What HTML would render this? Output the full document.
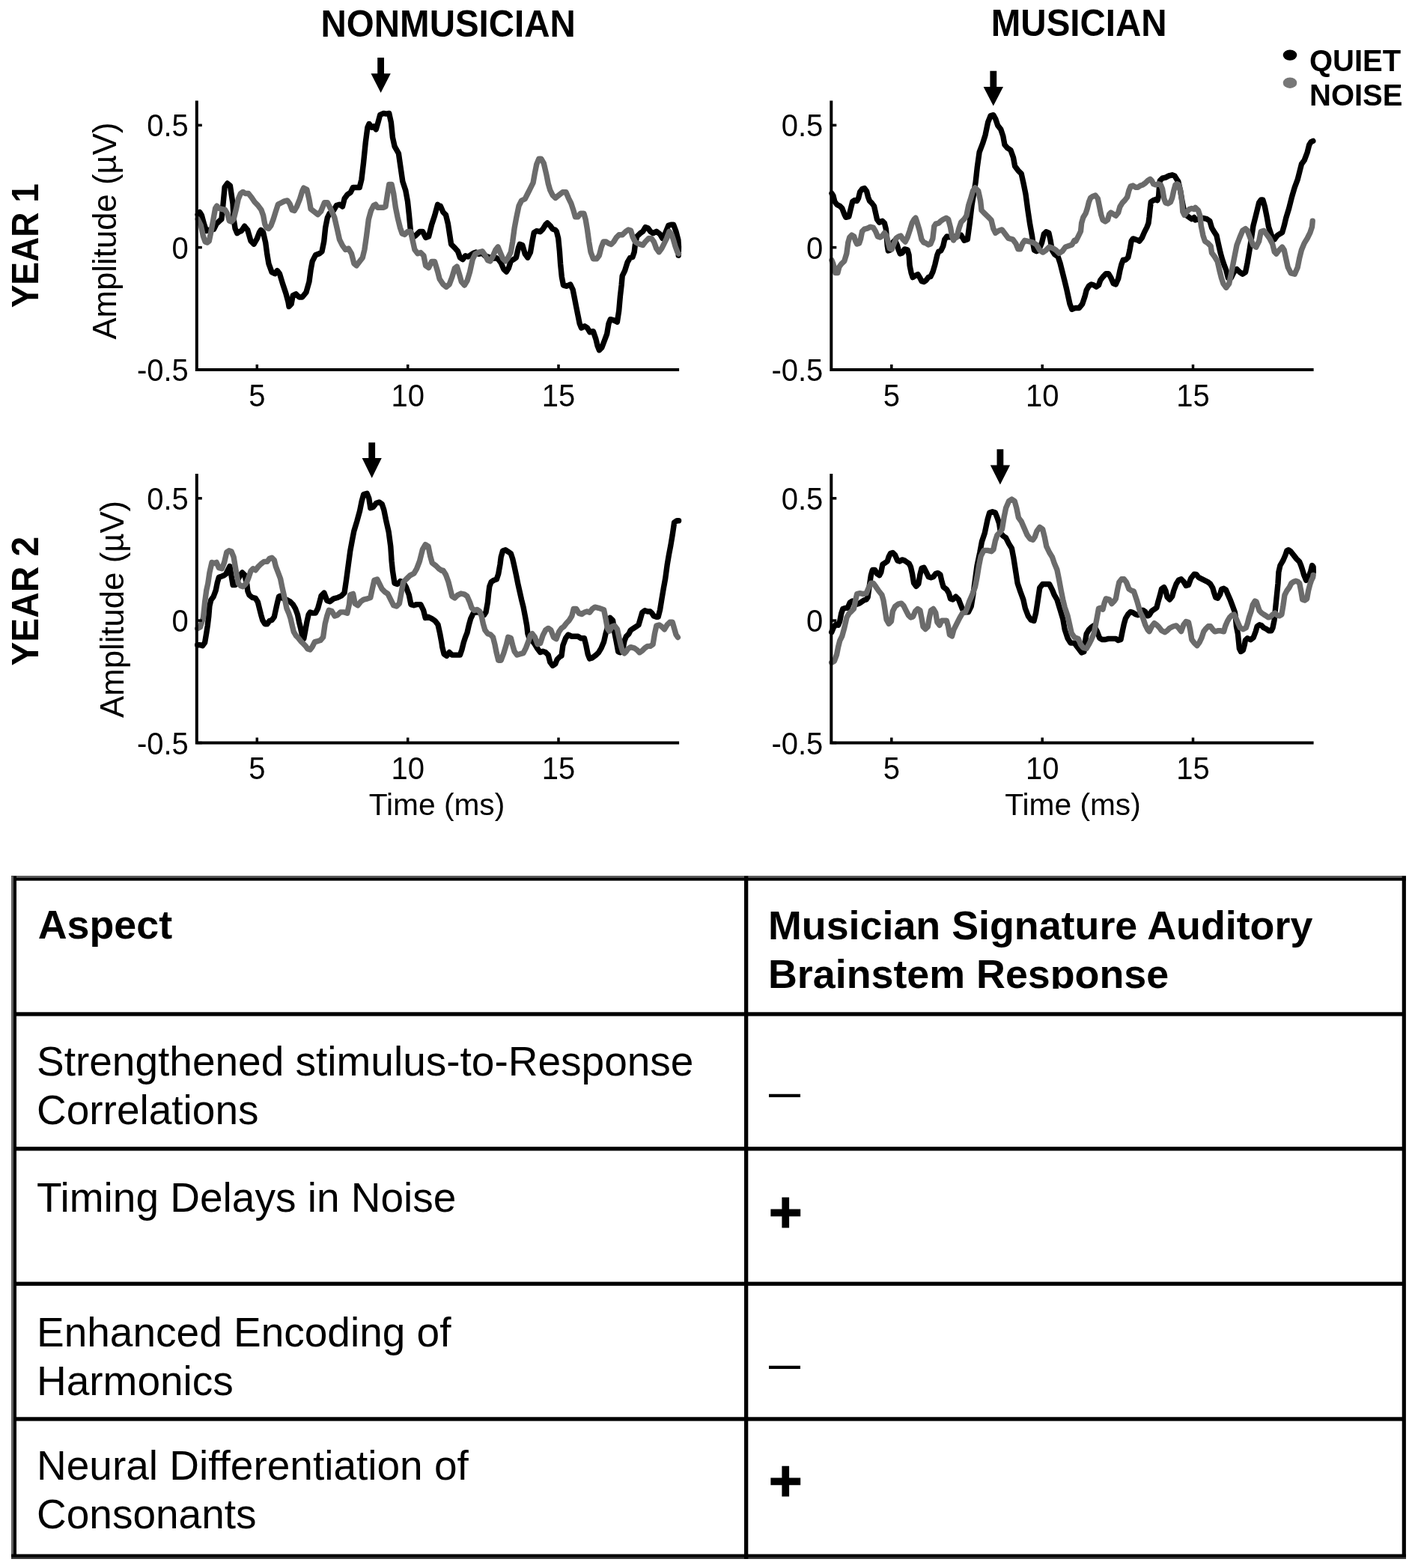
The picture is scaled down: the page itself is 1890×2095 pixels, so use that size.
<!DOCTYPE html>
<html><head><meta charset="utf-8"><title>Musician auditory brainstem response figure</title>
<style>
html,body{margin:0;padding:0;background:#fff;}
body{width:1890px;height:2095px;overflow:hidden;}
svg{display:block;}
text{font-family:'Liberation Sans', Arial, Helvetica, sans-serif;fill:#000;}
.tk{font-size:40px;}
.ax{font-size:40.7px;}
.yr{font-size:46px;font-weight:bold;}
.amp{font-size:44px;}
.ttl{font-size:47.5px;font-weight:bold;}
.lg{font-size:40px;font-weight:bold;}
.th{font-size:53.8px;font-weight:bold;}
.td{font-size:55px;}
.dash{font-size:42px;font-weight:bold;}
.plus{font-size:77px;font-weight:bold;stroke:#000;stroke-width:1.2px;}
</style></head>
<body><svg width="1890" height="2095" viewBox="0 0 1890 2095">
<path d="M264.2 286.6 L266.8 283.5 L269.4 287.7 L272.5 299.1 L275.6 308.5 L278.2 307.4 L285.5 306.4 L289.1 299.1 L293.3 295 L295.9 292.9 L297.5 278.3 L300.1 250.2 L303.7 245 L307.4 248.1 L311 272.1 L312.1 292.9 L314.1 305.4 L316.7 311.6 L319.9 309.5 L322.5 308.5 L326.6 302.2 L330.8 307.4 L335 322 L339.1 326.2 L343.3 318.9 L346.4 310.6 L348.5 307.4 L351.6 310.6 L354.7 324.1 L356.8 339.7 L358.9 352.2 L363.1 363.7 L367.2 365.7 L370.3 361.6 L373.5 365.7 L377.6 379.3 L381.8 391.8 L384.9 403.2 L386 409.5 L389.1 406.3 L391.2 394.9 L395.3 392.8 L399.5 397 L403.7 397 L408.9 390.7 L413 376.2 L415.1 360.5 L417.2 349.1 L421.4 340.8 L426.6 338.7 L430 336.1 L432.7 322.8 L434.7 304 L437.4 290.6 L440.1 285.3 L445.4 281.3 L449.4 274.6 L453.5 273.2 L457.5 275.9 L460.2 265.2 L464.2 259.8 L468.2 257.2 L471.5 250.5 L474.9 250.5 L480.2 250.5 L482.9 239.8 L485.6 217 L488.3 190.2 L490.9 170.2 L493 165.5 L496.3 170.2 L499 168.8 L502.3 172.8 L505 163.5 L507.7 153.4 L512.4 151.4 L515.7 152.1 L519.7 151.4 L522.4 163.5 L524.4 183.5 L527.1 195.6 L532.4 205 L535.1 223.7 L537.8 242.4 L541.8 254.5 L544.5 269.2 L546.5 288 L548.5 309.4 L551.2 317.4 L555.2 314.7 L560.6 309.4 L564.6 309.4 L568.6 317.4 L572.6 316.1 L576.6 300 L580.6 288 L584.6 273.2 L585.4 275.2 L588.3 275.2 L591.9 283.5 L595.5 287.1 L598.4 299 L600.8 314.4 L602.6 326.3 L607.4 331.1 L611.5 335.8 L614.5 344.2 L618.1 346.6 L621.6 341.8 L625.2 343 L628.8 340.6 L632.3 338.2 L635.9 337 L639.5 339.4 L644.2 338.2 L647.8 341.8 L651.4 343 L654.9 344.2 L658.5 345.4 L662.1 344.2 L665.7 346.6 L669.2 351.3 L672.8 359.6 L676.4 363.2 L679.3 358.4 L682.3 348.9 L685.9 346.6 L689.4 344.2 L692.4 331.1 L694.2 326.3 L697.8 327.5 L701.3 339.4 L704.9 344.2 L708.5 337 L710.9 322.8 L713.2 310.9 L716.8 308.5 L721.6 309.7 L725.1 306.1 L728.7 300.2 L731.1 297.8 L734.7 301.3 L738.2 306.1 L741.8 307.3 L743.4 309.3 L745.7 318.4 L747.4 335.5 L748.6 352.6 L750.3 369.7 L752.5 381.1 L757.1 382.3 L761.7 380 L765.1 386.8 L767.4 398.2 L769.6 409.6 L771.9 421 L774.2 432.4 L776.5 438.1 L781 435.8 L784.5 438.1 L787.9 443.8 L792.4 442.7 L795.9 453 L798.1 462.1 L800.4 467.8 L803.8 464.4 L807.3 455.2 L810.7 446.1 L813 432.4 L815.3 426.7 L819.8 427.9 L824.4 430.1 L826.7 415.3 L828.4 395.9 L830.1 381.1 L831.2 368.6 L834.6 361.7 L838.1 350.3 L841.5 344.6 L844.9 343.5 L847.2 336.7 L848.3 327.5 L850.6 316.1 L855.2 311.6 L858.6 309.3 L862 303.6 L865.4 304.7 L868.8 309.3 L872.3 311.6 L876.8 309.3 L881.4 312.7 L884.8 318.4 L888.2 312.7 L892.8 301.3 L896.2 300.2 L899.6 300.2 L903 309.3 L905.9 320.7 L906.5 329.8 L906.2 341.2" fill="none" stroke="#000" stroke-width="7.4" stroke-linejoin="round" stroke-linecap="round"/>
<path d="M264.2 292.9 L268.3 301.2 L271.5 315.8 L274.1 323.1 L276.7 324.1 L279.3 322 L281.9 309.5 L285 292.9 L287.6 278.3 L289.7 275.2 L292.3 278.3 L296.4 279.3 L300.6 280.4 L303.7 285.6 L306.3 295 L308.9 296 L312.1 292.9 L315.2 280.4 L318.3 265.8 L321.4 258.5 L324.5 256.4 L327.7 258.5 L331.8 258.5 L336 263.7 L340.2 270 L344.3 274.1 L349 280.4 L351.6 287.7 L353.7 299.1 L355.8 304.3 L358.9 305.4 L362 301.2 L365.1 292.9 L368.3 282.5 L371.4 273.1 L375.6 271 L379.7 268.9 L383.9 267.9 L387 272.1 L390.1 280.4 L393.3 281.4 L396.4 276.2 L400.5 265.8 L403.7 255.4 L405.7 251.2 L409.9 253.3 L413 266.8 L415.1 279.3 L419.3 282.5 L424.5 286.6 L428.6 282.5 L433.4 270.6 L437.4 270.6 L441.4 278.6 L446.8 290.6 L450.8 308 L453.5 320.1 L457.5 328.1 L461.5 333.5 L465.5 332.1 L469.5 338.8 L472.9 352.2 L476.2 354.9 L480.2 349.5 L484.3 344.2 L486.9 333.5 L489.6 314.7 L492.3 293.3 L495.6 281.3 L499 274.6 L501.7 273.2 L504.3 277.2 L508.3 277.2 L512.4 277.2 L515 275.9 L517.7 258.5 L519.7 246.5 L523.1 246.5 L525.7 258.5 L528.4 277.2 L531.1 290.6 L534.4 304 L537.1 312 L540.5 313.4 L544.5 309.4 L548.5 309.4 L551.2 321.4 L553.9 333.5 L557.9 338.8 L561.9 337.5 L565.9 341.5 L568.6 354.9 L572.6 357.6 L576.6 349.5 L580.6 349.5 L584.6 362.9 L587.1 372.7 L591.9 379.9 L596.1 383.4 L600.2 379.9 L603.8 370.3 L607.4 358.4 L610.3 356.1 L613.3 365.6 L616.3 376.3 L620.4 381 L624 375.1 L627.6 363.2 L631.2 346.6 L634.7 339.4 L639.5 337 L644.2 335.8 L647.8 340.6 L651.4 347.7 L654.9 348.9 L658.5 341.8 L662.1 333.5 L665.1 329.9 L668 337 L671.6 345.4 L675.2 348.9 L678.7 344.2 L682.3 337 L684.7 322.8 L687.1 304.9 L690 289.4 L693 275.2 L696.6 268 L701.3 265.7 L704.9 258.5 L708.5 251.4 L712.1 244.2 L714.4 231.2 L716.8 219.3 L719.8 212.1 L722.8 212.1 L726.3 218.1 L729.9 233.5 L732.3 245.4 L734.7 253.8 L738.2 260.9 L741.8 264.5 L751.4 256.8 L756 256.8 L759.4 264.8 L762.8 271.7 L766.2 281.9 L768.5 289.9 L771.9 289.9 L775.3 285.3 L779.9 285.3 L782.2 293.3 L784.5 307 L786.7 323 L789 336.7 L792.4 345.8 L797 345.8 L800.4 341.2 L803.3 329.8 L806.1 323 L809.6 323 L813 325.3 L816.4 326.4 L819.8 323 L823.2 317.3 L826.7 313.8 L831.2 313.8 L835.8 309.3 L839.2 307 L842.6 308.1 L844.9 316.1 L848.3 323 L851.7 325.3 L855.2 326.4 L858.6 327.5 L862 323 L866.6 318.4 L870 318.4 L873.4 323 L876.8 332.1 L880.2 336.7 L883.7 332.1 L887.1 325.3 L890.5 318.4 L893.9 309.3 L897.3 313.8 L899.6 320.7 L901.9 328.7 L904.8 336.7 L906.5 338.9" fill="none" stroke="#6b6b6b" stroke-width="7.4" stroke-linejoin="round" stroke-linecap="round"/>
<path d="M262.8 134.6 V494 H907.1" fill="none" stroke="#000" stroke-width="4" stroke-linejoin="miter"/>
<line x1="262.8" y1="167.3" x2="269.8" y2="167.3" stroke="#000" stroke-width="3.5"/>
<text transform="translate(251.8 182.3) scale(1 1.04)" text-anchor="end" class="tk">0.5</text>
<line x1="262.8" y1="330.6" x2="269.8" y2="330.6" stroke="#000" stroke-width="3.5"/>
<text transform="translate(251.8 345.6) scale(1 1.04)" text-anchor="end" class="tk">0</text>
<line x1="262.8" y1="494" x2="269.8" y2="494" stroke="#000" stroke-width="3.5"/>
<text transform="translate(251.8 509) scale(1 1.04)" text-anchor="end" class="tk">-0.5</text>
<line x1="343.3" y1="494" x2="343.3" y2="487" stroke="#000" stroke-width="3.5"/>
<text transform="translate(343.3 542.9) scale(1 1.04)" text-anchor="middle" class="tk">5</text>
<line x1="544.7" y1="494" x2="544.7" y2="487" stroke="#000" stroke-width="3.5"/>
<text transform="translate(544.7 542.9) scale(1 1.04)" text-anchor="middle" class="tk">10</text>
<line x1="746" y1="494" x2="746" y2="487" stroke="#000" stroke-width="3.5"/>
<text transform="translate(746 542.9) scale(1 1.04)" text-anchor="middle" class="tk">15</text>
<path d="M1111 258.5 L1112.9 261.5 L1114.9 269.4 L1117.9 273.4 L1121.9 275.4 L1124.8 278.4 L1127.8 286.3 L1129.8 290.3 L1133.8 289.3 L1136.7 277.4 L1138.7 269.4 L1141.7 267.4 L1144.7 268.4 L1146.7 264.5 L1148.6 256.5 L1151.6 252.6 L1154.6 251.6 L1157.6 255.5 L1159.6 263.5 L1161.5 268.4 L1164.5 271.4 L1167.5 275.4 L1169.5 284.3 L1171.5 293.2 L1174.4 297.2 L1178.4 295.2 L1181.4 298.2 L1183.4 306.1 L1184.3 317 L1185.3 328.9 L1186.3 334.9 L1189.3 333.9 L1192.3 324 L1195.3 321 L1198.2 327 L1200.2 333.9 L1202.2 338.9 L1205.2 337.9 L1208.2 332.9 L1212.1 333.9 L1214.1 340.8 L1215.1 354.7 L1217.1 364.6 L1219.1 370.6 L1222 368.6 L1226 366.6 L1229 371.6 L1231 375.6 L1233.9 376.5 L1236.9 374.6 L1239.9 370.6 L1242.9 369.6 L1245.8 363.7 L1248.8 353.7 L1251.8 340.8 L1253.8 335.9 L1256.8 334.9 L1259.7 328.9 L1261.7 320 L1264.7 316 L1270.8 317 L1283.7 314.1 L1288 321.3 L1292.3 319.8 L1295.2 298.3 L1298.1 273.8 L1301 256.6 L1303.1 243.6 L1305.3 223.5 L1308.1 203.4 L1312.5 191.8 L1316.1 180.3 L1319.7 163.1 L1323.2 154.5 L1326.8 153.7 L1329.7 158.8 L1332.6 167.4 L1336.9 173.1 L1339.8 181.8 L1341.9 193.3 L1345.5 197.6 L1349.9 200.5 L1353.5 210.5 L1355.6 222 L1359.9 227.8 L1364.2 232.1 L1367.1 245.1 L1370 259.4 L1372.9 281 L1375.7 299.7 L1378.6 315.5 L1380.1 327 L1381.5 334.2 L1384.4 335.7 L1387.3 334.2 L1391.6 324.2 L1394.4 312.7 L1397.3 309.8 L1400.9 311.2 L1403.1 321.3 L1405.2 334.2 L1408.8 340 L1413.1 342.9 L1416 351.5 L1418.9 363 L1421.8 374.5 L1424.6 386 L1426.8 396.1 L1429 406.1 L1431.8 413.3 L1435 411.9 L1437 411.5 L1441.4 411.5 L1445.7 406.1 L1449 396.3 L1451.2 387.6 L1454.4 382.1 L1457.7 379.9 L1461 381 L1464.3 383.2 L1467.5 381 L1469.7 374.5 L1473 370.1 L1477.3 365.7 L1480.6 365.7 L1483.9 371.2 L1487.2 378.8 L1490.4 379.9 L1493.7 372.3 L1495.9 361.4 L1498.1 352.7 L1500.2 347.2 L1503.5 347.2 L1506.8 343.9 L1509 334.1 L1511.1 322.1 L1513.3 318.9 L1516.6 319.9 L1519.9 321 L1522 322.1 L1525.3 317.8 L1528.6 310.1 L1531.9 303.6 L1534 298.1 L1535.1 289.4 L1536.2 278.5 L1537.3 269.8 L1540.6 267.6 L1543.9 266.5 L1546 267.6 L1547.7 261.1 L1548.4 250.2 L1549.3 241.4 L1552.6 238.2 L1556.9 237.1 L1561.3 234.9 L1565.7 233.8 L1568.9 234.9 L1572.2 240.3 L1573.8 242.5 L1576.6 254.5 L1578.8 267.6 L1580.9 278.5 L1584.2 287.2 L1588.6 290.5 L1591.8 292.7 L1595 290.5 L1596.6 294 L1601.8 292.7 L1606.9 291.4 L1612.1 292.7 L1615.9 295.3 L1618.5 304.3 L1622.4 310.8 L1624.9 314.6 L1627.5 326.2 L1630.1 337.8 L1632.7 346.9 L1635.3 354.6 L1637.8 361 L1640.4 371.3 L1644.3 371.3 L1648.1 363.6 L1652 359.7 L1655.9 363.6 L1659.7 366.2 L1663.6 363.6 L1666.2 350.7 L1668.8 335.3 L1671.3 319.8 L1673.9 301.8 L1677.8 286.3 L1681.6 270.8 L1684.2 267 L1686.8 267 L1689.4 276 L1692 288.9 L1694.5 303 L1698.4 314.6 L1702.3 319.8 L1706.1 314.6 L1710 312.1 L1712.6 310.8 L1715.2 301.8 L1717.7 291.4 L1721.6 278.6 L1725.5 263.1 L1729.3 250.2 L1733.2 239.9 L1735.8 229.6 L1738.4 219.3 L1742.2 214.1 L1746.1 203.8 L1748.7 193.5 L1751.2 189.6 L1753.8 188.4" fill="none" stroke="#000" stroke-width="7.4" stroke-linejoin="round" stroke-linecap="round"/>
<path d="M1111 347.8 L1112.9 352.7 L1115.9 364.6 L1118.9 364.6 L1120.9 356.7 L1123.8 352.7 L1127.8 348.8 L1130.8 338.9 L1132.8 324 L1134.8 317 L1137.7 314.1 L1140.7 316 L1142.7 322 L1144.7 326 L1147.6 325 L1149.6 319 L1151.6 309.1 L1154.6 306.1 L1158.6 305.1 L1162.5 303.2 L1166.5 304.1 L1169.5 309.1 L1172.4 316 L1175.4 317 L1178.4 315.1 L1181.4 311.1 L1184.3 315.1 L1186.3 324 L1188.3 331.9 L1191.3 332.9 L1194.3 325 L1197.2 318 L1200.2 316 L1203.2 315.1 L1206.2 320 L1209.1 323 L1212.1 317 L1215.1 308.1 L1218.1 298.2 L1221 293.2 L1223 291.2 L1225 297.2 L1228 307.1 L1231 320 L1233.9 324 L1236.9 325 L1239.9 327 L1242.9 326 L1245.8 319 L1247.8 302.2 L1249.8 299.2 L1253.8 298.2 L1256.8 295.2 L1259.7 293.2 L1263.7 291.2 L1266.7 293.2 L1269.6 304.1 L1271.6 316 L1273.6 321 L1275.1 318.4 L1277.9 317 L1280.8 305.5 L1283.7 296.8 L1288 292.5 L1290.9 288.2 L1293.8 273.8 L1296.6 265.2 L1299.5 255.1 L1302.4 250.8 L1306.7 255.1 L1309.6 268.1 L1311 281 L1315.3 285.3 L1319.7 289.6 L1324 294 L1326.8 305.5 L1329.7 311.2 L1334 308.3 L1338.4 306.9 L1342.7 312.7 L1347 318.4 L1352.7 319.8 L1357 325.6 L1359.9 332.8 L1362.8 332.8 L1365.7 325.6 L1368.6 321.3 L1374.3 322.7 L1380.1 324.2 L1384.4 327 L1388.7 334.2 L1393 337.1 L1397.3 334.2 L1401.6 329.9 L1405.9 331.4 L1410.3 334.2 L1414.6 338.5 L1418.9 335.7 L1423.2 329.9 L1427.5 328.5 L1431.8 327 L1435 321.3 L1437 322.1 L1440.3 315.6 L1443.5 309 L1444.6 298.1 L1446.8 290.5 L1450.1 285.1 L1452.3 278.5 L1454.4 269.8 L1456.6 264.3 L1459.9 262.2 L1463.2 261.1 L1466.4 265.4 L1468.6 276.3 L1470.8 287.2 L1473 293.8 L1476.3 296 L1479.5 293.8 L1481.7 286.1 L1483.9 284 L1487.2 286.1 L1490.4 288.3 L1493.7 284 L1495.9 276.3 L1499.2 270.9 L1502.4 267.6 L1505.7 263.2 L1507.9 254.5 L1510.1 249.1 L1513.3 248 L1516.6 250.2 L1519.9 250.2 L1523.1 248 L1526.4 246.9 L1529.7 244.7 L1533 241.4 L1536.2 239.3 L1538.4 241.4 L1540.6 245.8 L1543.9 246.9 L1547.1 245.8 L1550.4 246.9 L1552.6 252.3 L1554.8 265.4 L1556.9 270.9 L1560.2 272 L1563.5 269.8 L1565.7 264.3 L1567.8 254.5 L1570 246.9 L1572.2 245.8 L1574.4 246.9 L1576.6 254.5 L1578.8 269.8 L1579.8 282.9 L1582 287.2 L1585.3 282.9 L1588.6 279.6 L1591.8 278.5 L1595 279.6 L1596.6 277.3 L1600.5 281.1 L1603 288.9 L1604.3 301.8 L1606.9 314.6 L1609.5 322.4 L1613.4 324.9 L1617.2 328.8 L1618.5 337.8 L1622.4 343 L1626.2 349.4 L1628.8 361 L1631.4 371.3 L1634 379.1 L1637.8 384.2 L1641.7 379.1 L1644.3 366.2 L1646.9 353.3 L1649.4 340.4 L1652 327.5 L1655.9 317.2 L1659.7 308.2 L1663.6 305.6 L1666.2 308.2 L1670.1 318.5 L1673.9 327.5 L1677.8 330.1 L1681.6 322.4 L1684.2 309.5 L1688.1 308.2 L1692 313.4 L1695.8 318.5 L1699.7 326.2 L1702.3 336.5 L1704.8 339.1 L1708.7 334 L1712.6 330.1 L1715.2 334 L1717.7 345.6 L1720.3 357.2 L1724.2 364.9 L1729.3 366.2 L1733.2 357.2 L1735.8 344.3 L1738.4 334 L1742.2 324.9 L1746.1 318.5 L1749.9 310.8 L1752.5 303 L1753.2 295.3" fill="none" stroke="#6b6b6b" stroke-width="7.4" stroke-linejoin="round" stroke-linecap="round"/>
<path d="M1110.3 134.6 V494 H1754.6" fill="none" stroke="#000" stroke-width="4" stroke-linejoin="miter"/>
<line x1="1110.3" y1="167.3" x2="1117.3" y2="167.3" stroke="#000" stroke-width="3.5"/>
<text transform="translate(1099.3 182.3) scale(1 1.04)" text-anchor="end" class="tk">0.5</text>
<line x1="1110.3" y1="330.6" x2="1117.3" y2="330.6" stroke="#000" stroke-width="3.5"/>
<text transform="translate(1099.3 345.6) scale(1 1.04)" text-anchor="end" class="tk">0</text>
<line x1="1110.3" y1="494" x2="1117.3" y2="494" stroke="#000" stroke-width="3.5"/>
<text transform="translate(1099.3 509) scale(1 1.04)" text-anchor="end" class="tk">-0.5</text>
<line x1="1190.8" y1="494" x2="1190.8" y2="487" stroke="#000" stroke-width="3.5"/>
<text transform="translate(1190.8 542.9) scale(1 1.04)" text-anchor="middle" class="tk">5</text>
<line x1="1392.2" y1="494" x2="1392.2" y2="487" stroke="#000" stroke-width="3.5"/>
<text transform="translate(1392.2 542.9) scale(1 1.04)" text-anchor="middle" class="tk">10</text>
<line x1="1593.5" y1="494" x2="1593.5" y2="487" stroke="#000" stroke-width="3.5"/>
<text transform="translate(1593.5 542.9) scale(1 1.04)" text-anchor="middle" class="tk">15</text>
<path d="M263.7 861.8 L267.4 861.8 L270.5 862.8 L273.6 858.6 L275.7 846.2 L277.3 835.7 L278.8 823.3 L279.9 809.7 L281.9 801.4 L285.1 797.2 L288.2 788.9 L290.3 778.5 L292.4 771.2 L295.5 770.2 L298.6 769.1 L301.7 767 L304.8 760.8 L306.9 756.6 L309 769.1 L311.1 781.6 L314.2 781.6 L317.3 775.4 L320.5 769.1 L323.6 765 L326.7 768.1 L329.8 780.6 L330.9 789.9 L333 795.1 L337.1 798.3 L341.3 799.3 L344.4 804.5 L346.5 812.8 L348.6 821.2 L350.7 828.5 L353.8 833.7 L356.9 833.7 L360 829.5 L363.1 828.5 L366.3 824.3 L368.3 814.9 L370.4 805.6 L372.5 797.2 L374.6 796.2 L377.7 799.3 L382.9 801.4 L387.1 803.5 L391.3 807.6 L394.4 812.8 L397.5 821.2 L399.6 831.6 L401.7 839.9 L403.7 849.3 L405.8 853.4 L407.9 842 L410 830.5 L412.1 821.2 L414.2 818 L417.3 819.1 L421.4 819.1 L424.6 812.8 L428 800.3 L429 796 L432.9 792.1 L436.8 802.4 L440.6 803.7 L445.8 799.8 L450.9 798.5 L456.1 796 L460 792.1 L462.5 775.3 L465.1 756 L467.7 736.7 L470.3 722.5 L472.8 709.6 L476.7 696.7 L480.6 682.5 L483.2 669.6 L485.7 660.6 L490.2 659.3 L492.8 665.8 L494.8 678.7 L498.6 677.4 L502.5 672.2 L506.4 670.9 L510.2 673.5 L512.8 681.2 L515.4 694.1 L519.2 710.9 L521.8 730.2 L523.1 749.6 L524.4 762.4 L527 779.2 L530.8 780.5 L534.7 776.6 L538.6 777.9 L542.4 784.4 L546.3 794.7 L548.9 807.6 L552.8 808.8 L556.6 807.6 L561.8 807.6 L565.6 815.3 L568.2 825.6 L572.1 824.3 L577.2 826.9 L581.1 829.5 L585 834.6 L587.6 846.2 L590 859.1 L590.7 864.4 L593.1 873.9 L596.7 876.3 L600.2 871.5 L603.8 875.1 L607.4 875.1 L610.9 875.1 L614.5 875.1 L616.9 868 L619.3 858.4 L621.6 851.3 L624 845.4 L626.4 834.7 L628.8 826.3 L632.3 819.2 L635.9 818 L639.5 818 L643.1 820.4 L646.6 821.6 L649 818 L651.4 804.9 L652.6 793 L653.8 783.5 L656.1 777.6 L659.7 775.2 L663.3 774 L665.7 766.8 L668 753.8 L669.2 744.2 L671.6 735.9 L675.2 734.7 L678.7 737.1 L682.3 739.5 L684.7 746.6 L687.1 757.3 L689.4 768 L691.8 779.9 L694.2 790.6 L696.6 801.3 L699 810.9 L701.3 822.8 L703.7 835.8 L704.9 846.6 L707.3 853.7 L710.9 856.1 L714.4 860.8 L718 866.8 L721.6 871.5 L725.1 870.3 L728.7 871.5 L732.3 875.1 L734.7 884.6 L738.2 889.4 L741.8 887 L744.2 881 L747.7 877.5 L750 876.3 L751.9 862.2 L755.5 852.7 L759 848 L763.8 850.3 L768.6 850.3 L772.1 850.3 L775.7 852.7 L780.4 852.7 L782.8 862.2 L785.2 874.1 L787.6 880.1 L791.2 878.9 L795.9 875.3 L799.5 871.8 L803.1 865.8 L806.6 857.5 L809 846.8 L811.4 838.4 L812.6 828.9 L814.9 825.4 L818.5 828.9 L819.7 836.1 L820.9 845.6 L823.3 857.5 L825.7 870.6 L828 871.8 L831.6 869.4 L834 856.3 L836.4 850.3 L839.9 846.8 L842.3 842 L845.9 839.6 L849.4 837.3 L853 834.9 L855.4 826.6 L857.8 818.2 L861.3 815.8 L864.9 817 L868.5 817 L870.9 819.4 L873.2 823 L876.8 824.2 L879.2 824.2 L881.6 814.7 L883.9 800.4 L886.3 786.1 L888.7 773 L891.1 755.2 L893.5 740.9 L895.8 729 L898.2 714.7 L900.6 698.1 L904.2 695.7 L906.6 695.7" fill="none" stroke="#000" stroke-width="7.4" stroke-linejoin="round" stroke-linecap="round"/>
<path d="M263.7 839.9 L267.4 837.8 L271.5 825.3 L273.6 804.5 L275.7 788.9 L277.8 779.5 L279.9 765 L283 751.4 L286.1 752.5 L289.2 751.4 L292.4 758.7 L296.5 759.7 L299.6 751.4 L302.8 737.9 L305.9 735.8 L309 736.8 L312.1 744.1 L314.2 756.6 L316.3 769.1 L318.4 779.5 L321.5 782.7 L324.6 783.7 L327.7 780.6 L329.8 777.4 L331.9 772.2 L335 762.9 L338.2 759.7 L341.3 761.8 L344.4 757.7 L348.6 753.5 L352.7 750.4 L356.9 750.4 L360 746.2 L363.1 745.2 L366.3 748.3 L368.3 756.6 L371.5 765 L374.6 773.3 L376.7 783.7 L378.8 793.1 L380.8 802.4 L382.9 812.8 L386 820.1 L388.1 826.4 L390.2 835.7 L392.3 844.1 L395.4 849.3 L398.5 852.4 L401.7 856.6 L404.8 859.7 L407.9 862.8 L411 867 L414.2 868 L417.3 863.9 L420.4 857.6 L424.6 856.6 L428 855.5 L431.6 851.4 L434.2 833.3 L436.8 823 L439.3 815.3 L443.2 816.6 L447.1 823 L450.9 821.7 L454.8 817.9 L460 817.9 L463.8 819.2 L466.4 807.6 L467.7 794.7 L471.6 793.4 L474.1 806.3 L478 808.8 L481.9 803.7 L485.7 801.1 L490.9 799.8 L494.8 798.5 L497.3 786.9 L499.9 775.3 L503.8 774 L506.4 779.2 L510.2 786.9 L514.1 790.8 L518 793.4 L521.8 801.1 L525.7 808.8 L529.6 810.1 L533.4 806.3 L536 792.1 L538.6 777.9 L542.4 774 L547.6 768.9 L552.8 766.3 L556.6 759.9 L560.5 749.6 L564.4 734.1 L568.2 727.6 L572.1 730.2 L574.7 743.1 L577.2 752.1 L582.4 756 L586.3 759.9 L590 762.4 L591.9 762.1 L595.5 768 L599 777.6 L601.4 787.1 L603.8 796.6 L607.4 799 L610.9 795.4 L615.7 793 L620.4 794.2 L624 796.6 L627.6 804.9 L630 812.1 L633.5 815.6 L637.1 814.4 L640.7 816.8 L643.1 822.8 L645.4 833.5 L647.8 841.8 L651.4 846.6 L654.9 847.7 L658.5 851.3 L660.9 860.8 L663.3 872.7 L665.7 882.2 L669.2 882.2 L672.8 872.7 L676.4 860.8 L678.7 851.3 L682.3 852.5 L684.7 862 L687.1 870.3 L690.6 875.1 L694.2 873.9 L699 872.7 L702.5 865.6 L706.1 856.1 L708.5 848.9 L710.9 846.6 L714.4 851.3 L718 860.8 L721.6 859.6 L725.1 848.9 L728.7 841.8 L732.3 839.4 L735.8 841.8 L739.4 851.3 L743 853.7 L746.6 844.2 L750 839.4 L753.1 837.3 L756.7 832.5 L760.2 828.9 L763.8 823 L766.2 813.5 L769.7 813.5 L773.3 819.4 L776.9 820.6 L780.4 818.2 L784 817 L787.6 818.2 L791.2 813.5 L794.7 811.1 L799.5 812.3 L803.1 813.5 L806.6 814.7 L809 826.6 L811.4 839.6 L813.8 843.2 L817.3 837.3 L820.9 836.1 L824.5 840.8 L826.8 851.5 L829.2 862.2 L831.6 870.6 L834 872.9 L836.4 870.6 L838.7 867 L842.3 864.6 L847.1 865.8 L850.6 868.2 L854.2 871.8 L857.8 869.4 L861.3 865.8 L864.9 863.4 L868.5 863.4 L872.1 861 L874.4 846.8 L876.8 836.1 L880.4 834.9 L883.9 837.3 L887.5 840.8 L891.1 834.9 L894.7 831.3 L898.2 831.3 L900.6 839.6 L903 848 L905.4 851.5" fill="none" stroke="#6b6b6b" stroke-width="7.4" stroke-linejoin="round" stroke-linecap="round"/>
<path d="M262.8 633.1 V992.5 H907.1" fill="none" stroke="#000" stroke-width="4" stroke-linejoin="miter"/>
<line x1="262.8" y1="665.8" x2="269.8" y2="665.8" stroke="#000" stroke-width="3.5"/>
<text transform="translate(251.8 680.8) scale(1 1.04)" text-anchor="end" class="tk">0.5</text>
<line x1="262.8" y1="829.1" x2="269.8" y2="829.1" stroke="#000" stroke-width="3.5"/>
<text transform="translate(251.8 844.1) scale(1 1.04)" text-anchor="end" class="tk">0</text>
<line x1="262.8" y1="992.5" x2="269.8" y2="992.5" stroke="#000" stroke-width="3.5"/>
<text transform="translate(251.8 1007.5) scale(1 1.04)" text-anchor="end" class="tk">-0.5</text>
<line x1="343.3" y1="992.5" x2="343.3" y2="985.5" stroke="#000" stroke-width="3.5"/>
<text transform="translate(343.3 1041.4) scale(1 1.04)" text-anchor="middle" class="tk">5</text>
<line x1="544.7" y1="992.5" x2="544.7" y2="985.5" stroke="#000" stroke-width="3.5"/>
<text transform="translate(544.7 1041.4) scale(1 1.04)" text-anchor="middle" class="tk">10</text>
<line x1="746" y1="992.5" x2="746" y2="985.5" stroke="#000" stroke-width="3.5"/>
<text transform="translate(746 1041.4) scale(1 1.04)" text-anchor="middle" class="tk">15</text>
<path d="M1110.7 844.7 L1113.3 838.5 L1116.5 834.3 L1119.6 835.3 L1121.7 830.1 L1123.7 819.7 L1125.8 813.5 L1128.9 812.4 L1132.1 812.4 L1135.2 805.1 L1138.3 803.1 L1141.4 806.2 L1144.6 807.2 L1147.7 806.2 L1150.8 804.1 L1153.9 802 L1157.1 801 L1159.1 797.9 L1161.2 783.3 L1163.3 768.7 L1165.4 761.4 L1168.5 761.4 L1171.6 766.6 L1174.7 768.7 L1176.8 764.5 L1178.9 754.1 L1182 752.1 L1185.2 750 L1187.2 743.7 L1189.3 739.6 L1192.4 738.5 L1195.6 741.6 L1198.7 748.9 L1201.8 750 L1204.9 747.9 L1208.1 748.9 L1211.2 751 L1214.3 753.1 L1216.4 757.3 L1218.5 766.6 L1220.6 779.1 L1223.7 783.3 L1226.8 780.2 L1228.9 767.7 L1231 759.3 L1234.1 758.3 L1237.2 764.5 L1240.3 770.8 L1243.5 771.8 L1246.6 770.8 L1249.7 766.6 L1252.8 765.6 L1255.9 767.7 L1258 777 L1260.1 784.3 L1264.3 787.4 L1267.4 792.7 L1269.5 799.9 L1272.6 801 L1276.6 797.2 L1280.5 801.1 L1283 807.6 L1285.6 814 L1289.5 817.9 L1293.4 817.9 L1297.2 810.1 L1299.8 794.7 L1302.4 775.3 L1305 756 L1308.8 738 L1311.4 723.8 L1315.3 712.2 L1319.1 694.1 L1321.7 685.1 L1325.6 683.8 L1329.4 685.1 L1332 691.6 L1334.6 699.3 L1336.5 712.2 L1339.8 716 L1343.6 718.6 L1347.5 726.4 L1351.4 732.8 L1353.9 745.7 L1356.5 762.4 L1359.1 779.2 L1363 790.8 L1366.8 801.1 L1369.4 812.7 L1373.3 823 L1377.1 828.2 L1381 829.5 L1383.6 819.2 L1386.2 802.4 L1388.7 785.6 L1392.6 780.5 L1397.8 780.5 L1401.6 780.5 L1405.5 788.2 L1408.1 794.7 L1411.9 801.1 L1415.8 814 L1419.7 826.9 L1422.2 841.1 L1426.1 852.7 L1430 859.1 L1435 859.1 L1438.1 863.2 L1441.4 867.6 L1444.6 871.9 L1447.9 870.8 L1449 859.9 L1451.2 846.8 L1454.4 841.4 L1457.7 838.1 L1461 835.9 L1465.3 843.6 L1468.6 852.3 L1471.9 854.5 L1476.3 854.5 L1480.6 853.4 L1486.1 853.4 L1490.4 853.4 L1493.7 855.6 L1497 854.5 L1499.2 843.6 L1501.3 833.8 L1503.5 826.1 L1506.8 820.7 L1510.1 817.4 L1513.3 818.5 L1516.6 820.7 L1519.9 821.8 L1523.1 818.5 L1526.4 815.2 L1529.7 817.4 L1533 822.8 L1535.1 821.8 L1538.4 816.3 L1541.7 814.1 L1544.9 811.9 L1547.1 803.2 L1549.3 795.6 L1551.5 786.9 L1554.8 784.7 L1556.9 789 L1559.1 797.8 L1562.4 801 L1565.7 796.7 L1567.8 789 L1571.1 780.3 L1574.4 774.9 L1577.7 773.8 L1580.9 777 L1584.2 782.5 L1587.5 781.4 L1590.7 772.7 L1595 767.2 L1597.9 767.4 L1600.9 771.4 L1604.8 773.4 L1608.8 775.4 L1612.8 777.3 L1616.7 780.3 L1619.7 785.3 L1621.7 792.2 L1623.7 798.2 L1626.6 799.2 L1629.6 794.2 L1631.6 787.3 L1634.6 786.3 L1637.5 788.2 L1640.5 795.2 L1643.5 802.1 L1646.5 810.1 L1649.4 818 L1650.4 824.9 L1651.4 836.8 L1653.4 846.7 L1654.4 856.7 L1655.4 866.6 L1657.4 870.5 L1660.4 868.6 L1662.3 861.6 L1663.3 855.7 L1666.3 852.7 L1670.3 854.7 L1674.2 851.7 L1677.2 843.8 L1679.2 836.8 L1682.2 834.8 L1685.1 835.8 L1688.1 838.8 L1692.1 840.8 L1695.1 842.8 L1698 842.8 L1700 838.8 L1702 828.9 L1703 819 L1705 799.2 L1707 779.3 L1707.9 764.4 L1709.9 755.5 L1713.9 748.6 L1716.9 741.6 L1718.9 735.7 L1720.8 734.7 L1723.8 736.7 L1727.8 741.6 L1731.7 746.6 L1735.7 750.6 L1737.7 755.5 L1739.7 761.5 L1741.7 768.4 L1744.6 775.4 L1747.6 771.4 L1750.6 763.5 L1752.6 755.5 L1754.1 757.5 L1754.3 764.4" fill="none" stroke="#000" stroke-width="7.4" stroke-linejoin="round" stroke-linecap="round"/>
<path d="M1110.7 885.3 L1114.4 883.2 L1117.5 874.9 L1119.6 864.5 L1121.7 856.2 L1124.8 849.9 L1127.9 838.5 L1131 824.9 L1134.1 819.7 L1137.3 816.6 L1140.4 813.5 L1142.5 803.1 L1144.6 793.7 L1148.7 792.7 L1152.9 793.7 L1157.1 792.7 L1160.2 785.4 L1163.3 779.1 L1166.4 779.1 L1169.5 783.3 L1173.7 789.5 L1177.9 794.7 L1180 802 L1182 814.5 L1184.1 828 L1187.2 833.3 L1190.4 830.1 L1192.4 816.6 L1195.6 810.3 L1199.7 807.2 L1203.9 806.2 L1207 809.3 L1210.1 815.6 L1213.3 821.8 L1216.4 824.9 L1219.5 823.9 L1222.6 816.6 L1225.8 813.5 L1228.9 815.6 L1231 826 L1233 837.4 L1236.2 840.5 L1239.3 837.4 L1241.4 824.9 L1243.5 815.6 L1246.6 813.5 L1249.7 818.7 L1251.8 831.2 L1254.9 835.3 L1258 829.1 L1261.2 829.1 L1264.3 829.1 L1266.4 836.4 L1268.4 847.8 L1271.6 849.9 L1274 841.1 L1277.9 833.3 L1281.8 825.6 L1285.6 819.2 L1289.5 817.9 L1292.1 811.4 L1294.6 803.7 L1298.5 794.7 L1302.4 784.4 L1305 771.5 L1307.5 756 L1310.1 743.1 L1314 735.4 L1319.1 735.4 L1324.3 736.7 L1326.9 734.1 L1329.4 722.5 L1332 714.8 L1335.9 710.9 L1338.5 707 L1341 691.6 L1343.6 678.7 L1347.5 669.6 L1351.4 667.1 L1355.2 669.6 L1357.8 678.7 L1360.4 691.6 L1364.2 696.7 L1368.1 705.7 L1372 714.8 L1375.8 719.9 L1379.7 721.2 L1382.3 717.3 L1384.9 709.6 L1388.7 704.4 L1392.6 707 L1395.2 717.3 L1397.8 730.2 L1401.6 738 L1405.5 744.4 L1408.1 752.1 L1411.9 761.2 L1414.5 774 L1417.1 788.2 L1419.7 801.1 L1422.2 811.4 L1426.1 823 L1428.7 834.6 L1431.3 846.2 L1435 851.4 L1437 852.3 L1440.3 853.4 L1443.5 861 L1446.8 865.4 L1451.2 866.5 L1454.4 861 L1457.7 854.5 L1461 846.8 L1463.2 835.9 L1465.3 825 L1467.5 813 L1470.8 811.9 L1473 814.1 L1475.2 805.4 L1477.3 799.9 L1481.7 801 L1485 806.5 L1488.2 803.2 L1490.4 799.9 L1492.6 788 L1494.8 778.1 L1498.1 773.8 L1501.3 773.8 L1504.6 778.1 L1507.9 786.9 L1511.1 789 L1514.4 790.1 L1516.6 796.7 L1518.8 803.2 L1521 810.9 L1523.1 818.5 L1526.4 825 L1529.7 834.8 L1533 841.4 L1535.1 843.6 L1538.4 837 L1541.7 832.7 L1544.9 834.8 L1548.2 838.1 L1551.5 842.5 L1555.9 844.7 L1559.1 842.5 L1562.4 839.2 L1566.8 837 L1571.1 835.9 L1574.4 839.2 L1577.7 843.6 L1580.9 834.8 L1584.2 830.5 L1587.5 831.6 L1589.7 841.4 L1591.8 854.5 L1595 858.8 L1598.9 862.6 L1601.9 858.6 L1604.8 852.7 L1607.8 843.8 L1610.8 839.8 L1613.8 836.8 L1616.7 836.8 L1619.7 840.8 L1622.7 843.8 L1626.6 842.8 L1630.6 842.8 L1634.6 843.8 L1636.6 836.8 L1639.5 829.9 L1642.5 824.9 L1645.5 822 L1648.5 821 L1650.4 824.9 L1653.4 831.9 L1656.4 838.8 L1660.4 840.8 L1664.3 838.8 L1666.3 832.9 L1668.3 824.9 L1671.3 816 L1673.2 808.1 L1676.2 803.1 L1678.2 804.1 L1680.2 810.1 L1682.2 816 L1685.1 819 L1688.1 821 L1691.1 822.9 L1694.1 824.9 L1697 823.9 L1700 821 L1703 819 L1706 822 L1708.9 822.9 L1711.9 821 L1713.9 809.1 L1715.9 795.2 L1718.9 789.2 L1721.8 785.3 L1724.8 779.3 L1727.8 777.3 L1730.8 776.3 L1733.7 777.3 L1735.7 779.3 L1737.7 789.2 L1739.7 801.1 L1742.6 802.1 L1745.6 800.1 L1747.6 789.2 L1749.6 781.3 L1751.6 775.4 L1753.6 771.4 L1754.1 768.4" fill="none" stroke="#6b6b6b" stroke-width="7.4" stroke-linejoin="round" stroke-linecap="round"/>
<path d="M1110.3 633.1 V992.5 H1754.6" fill="none" stroke="#000" stroke-width="4" stroke-linejoin="miter"/>
<line x1="1110.3" y1="665.8" x2="1117.3" y2="665.8" stroke="#000" stroke-width="3.5"/>
<text transform="translate(1099.3 680.8) scale(1 1.04)" text-anchor="end" class="tk">0.5</text>
<line x1="1110.3" y1="829.1" x2="1117.3" y2="829.1" stroke="#000" stroke-width="3.5"/>
<text transform="translate(1099.3 844.1) scale(1 1.04)" text-anchor="end" class="tk">0</text>
<line x1="1110.3" y1="992.5" x2="1117.3" y2="992.5" stroke="#000" stroke-width="3.5"/>
<text transform="translate(1099.3 1007.5) scale(1 1.04)" text-anchor="end" class="tk">-0.5</text>
<line x1="1190.8" y1="992.5" x2="1190.8" y2="985.5" stroke="#000" stroke-width="3.5"/>
<text transform="translate(1190.8 1041.4) scale(1 1.04)" text-anchor="middle" class="tk">5</text>
<line x1="1392.2" y1="992.5" x2="1392.2" y2="985.5" stroke="#000" stroke-width="3.5"/>
<text transform="translate(1392.2 1041.4) scale(1 1.04)" text-anchor="middle" class="tk">10</text>
<line x1="1593.5" y1="992.5" x2="1593.5" y2="985.5" stroke="#000" stroke-width="3.5"/>
<text transform="translate(1593.5 1041.4) scale(1 1.04)" text-anchor="middle" class="tk">15</text>
<path d="M504.2 77.1 H513 V98.2 H521.8 L508.6 124 L495.5 98.2 H504.2 Z" fill="#000"/>
<path d="M1322.4 94.8 H1331.2 V116 H1340 L1326.8 141.6 L1313.6 116 H1322.4 Z" fill="#000"/>
<path d="M492.3 591.3 H501.1 V611.9 H509.8 L496.7 638.7 L483.6 611.9 H492.3 Z" fill="#000"/>
<path d="M1331.5 600.3 H1340.3 V621.4 H1349.1 L1335.9 647.4 L1322.8 621.4 H1331.5 Z" fill="#000"/>
<text transform="translate(598.7 48.5) scale(1 1.05)" text-anchor="middle" class="ttl">NONMUSICIAN</text>
<text transform="translate(1441.2 48) scale(1 1.04)" text-anchor="middle" class="ttl">MUSICIAN</text>
<text transform="translate(50.7 328.3) rotate(-90) scale(1 1.076)" text-anchor="middle" class="yr">YEAR 1</text>
<text transform="translate(51.2 803.2) rotate(-90) scale(1.039 1.076)" text-anchor="middle" class="yr">YEAR 2</text>
<text transform="translate(155 308.5) rotate(-90) scale(0.994 1)" text-anchor="middle" class="amp">Amplitude (µV)</text>
<text transform="translate(164.7 813.9) rotate(-90) scale(0.994 1)" text-anchor="middle" class="amp">Amplitude (µV)</text>
<text x="583.5" y="1088.9" text-anchor="middle" class="ax">Time (ms)</text>
<text x="1433" y="1088.9" text-anchor="middle" class="ax">Time (ms)</text>
<ellipse cx="1723" cy="73.6" rx="9.3" ry="7.2" fill="#000"/>
<ellipse cx="1723" cy="110.7" rx="9.3" ry="7.2" fill="#777"/>
<text x="1749" y="94.5" class="lg">QUIET</text>
<text x="1749" y="140.7" class="lg">NOISE</text>
<rect x="15" y="1170.5" width="1863" height="6.2" fill="#000"/>
<rect x="15" y="1170.5" width="1863" height="2.5" fill="#555"/>
<rect x="15" y="1170.5" width="7" height="912.5" fill="#000"/>
<rect x="15" y="1170.5" width="3" height="912.5" fill="#606060"/>
<rect x="1872.7" y="1170.5" width="5.2" height="912.5" fill="#000"/>
<rect x="15" y="2076.5" width="1863" height="6.5" fill="#000"/>
<rect x="15" y="2080.5" width="1863" height="2.5" fill="#3c3c3c"/>
<rect x="994" y="1170.5" width="5.3" height="912.5" fill="#000"/>
<rect x="18" y="1352.3" width="1858" height="5.3" fill="#000"/>
<rect x="18" y="1532.2" width="1858" height="5.3" fill="#000"/>
<rect x="18" y="1712.6" width="1858" height="5.3" fill="#000"/>
<rect x="18" y="1893.3" width="1858" height="5.3" fill="#000"/>
<text x="50.7" y="1254.3" class="th">Aspect</text>
<clipPath id="hc"><rect x="1000" y="1177" width="870" height="144"/></clipPath>
<g clip-path="url(#hc)"><text x="1026" y="1255" class="th">Musician Signature Auditory</text><text x="1026" y="1319.6" class="th">Brainstem Response</text></g>
<text x="49" y="1436.9" class="td">Strengthened stimulus-to-Response</text>
<text x="49" y="1501.9" class="td">Correlations</text>
<text x="49" y="1618.5" class="td">Timing Delays in Noise</text>
<text x="49" y="1798.5" class="td">Enhanced Encoding of</text>
<text x="49" y="1863.5" class="td">Harmonics</text>
<text x="49" y="1976.6" class="td">Neural Differentiation of</text>
<text x="49" y="2041.6" class="td">Consonants</text>
<text x="1027" y="1474.9" class="dash">—</text>
<text x="1027" y="1838.2" class="dash">—</text>
<text x="1049.3" y="1645.7" text-anchor="middle" class="plus">+</text>
<text x="1049.3" y="2004.6" text-anchor="middle" class="plus">+</text>
</svg></body></html>
